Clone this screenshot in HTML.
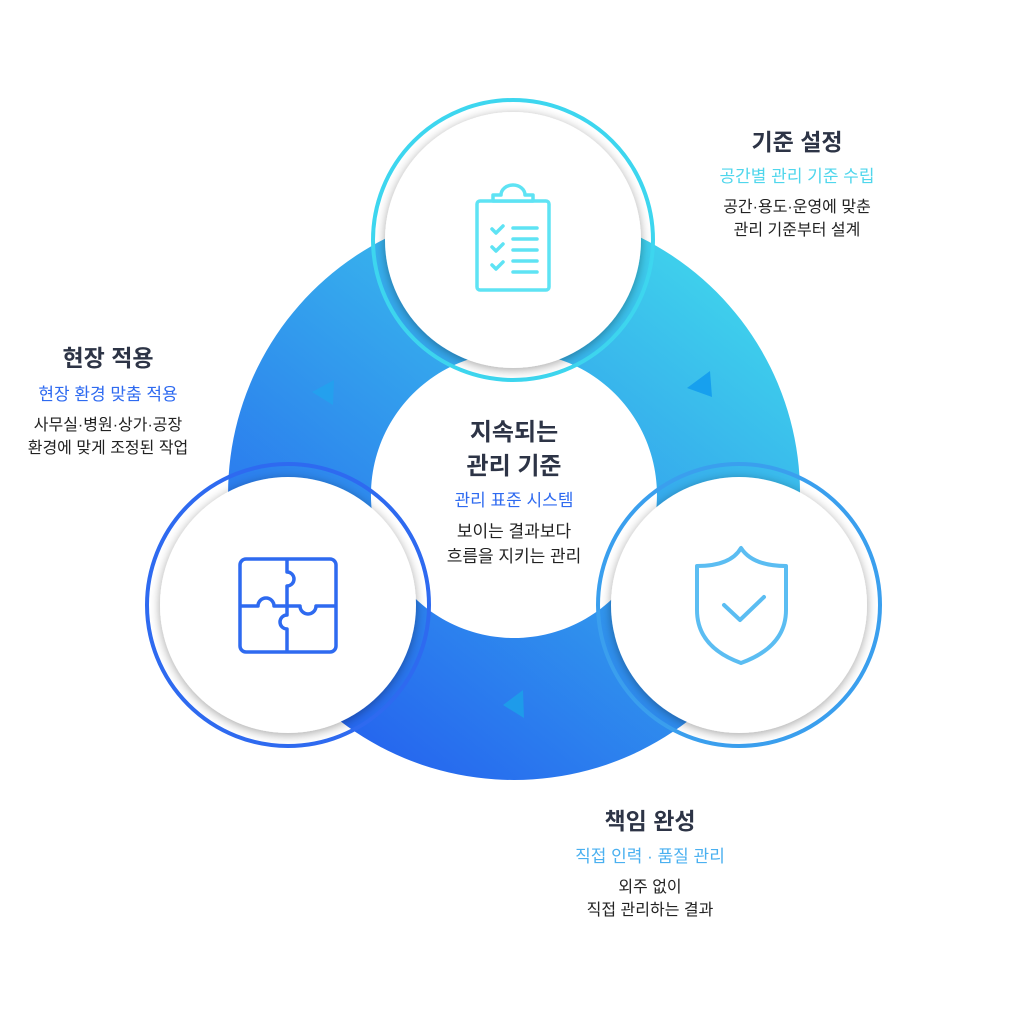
<!DOCTYPE html>
<html><head><meta charset="utf-8"><style>
html,body{margin:0;padding:0;background:#fff;width:1024px;height:1024px;overflow:hidden}
svg{display:block}
text{font-family:"Liberation Sans","Noto Sans CJK KR",sans-serif}
</style></head><body>
<svg width="1024" height="1024" viewBox="0 0 1024 1024">
<defs>
<linearGradient id="g" x1="0.85" y1="0.1" x2="0.2" y2="0.95">
<stop offset="0" stop-color="#3fd2ec"/><stop offset="1" stop-color="#2563ee"/>
</linearGradient>
<filter id="sh" x="-20%" y="-20%" width="140%" height="140%">
<feDropShadow dx="0" dy="2" stdDeviation="5" flood-color="#000" flood-opacity="0.35"/>
</filter>
</defs>
<path fill="url(#g)" fill-rule="evenodd" d="M514,208a286,286 0 1,0 0.1,0z M514,352a143,143 0 1,1 -0.1,0z"/>
<polygon points="687,388 710,371 712,397" fill="#17a0ee"/>
<polygon points="312,392 334,380 333,405" fill="#24a0ee"/>
<polygon points="503,705 523,690 524,718" fill="#1e9bea"/>
<circle cx="513" cy="240" r="140" fill="none" stroke="#3dd6ef" stroke-width="4"/>
<circle cx="513" cy="240" r="128" fill="#fff" filter="url(#sh)"/>
<circle cx="288" cy="605" r="141" fill="none" stroke="#2e6af0" stroke-width="4"/>
<circle cx="288" cy="605" r="128" fill="#fff" filter="url(#sh)"/>
<circle cx="739" cy="605" r="141" fill="none" stroke="#3a9fee" stroke-width="4"/>
<circle cx="739" cy="605" r="128" fill="#fff" filter="url(#sh)"/>
<g fill="none" stroke="#5ee3f4" stroke-width="3.5" stroke-linecap="round" stroke-linejoin="round">
<rect x="477" y="201" width="72" height="89" rx="3"/>
<path d="M493,201v-6h8a6,5 0 0,1 24,0h8v6z" fill="#fff"/>
<path d="M492,229l4,4l7,-7 M492,247l4,4l7,-7 M492,265l4,4l7,-7"/>
<path d="M513,228h24 M513,239h24 M513,250h24 M513,261h24 M513,272h24"/>
</g>
<g fill="none" stroke="#2e6af0" stroke-width="3.5" stroke-linejoin="round">
<rect x="240" y="559" width="96" height="93" rx="6"/>
<path d="M287,559v13a7,7 0 0,1 0,14v20h-13a8,8 0 0,0 -16,0h-18"/>
<path d="M287,606v9a7,7 0 0,0 0,14v23"/>
<path d="M287,606h13a8,8 0 0,0 16,0h20"/>
</g>
<g fill="none" stroke="#5bbdf2" stroke-width="4" stroke-linecap="round" stroke-linejoin="round">
<path d="M741,548c-8,14 -25,18 -44,18v44c0,30 22,45 44,53c22,-8 45,-23 45,-53v-44c-19,0 -36,-4 -45,-18z"/>
<path d="M724,605l16,15l24,-23"/>
</g>
<g text-anchor="middle">
<text x="797" y="150" font-size="23" font-weight="bold" fill="#2d3446">기준 설정</text>
<text x="797" y="182" font-size="17" fill="#4fd6ec">공간별 관리 기준 수립</text>
<text x="797" y="212" font-size="16" fill="#222">공간·용도·운영에 맞춘</text>
<text x="797" y="235" font-size="16" fill="#222">관리 기준부터 설계</text>

<text x="108" y="366" font-size="23" font-weight="bold" fill="#2d3446">현장 적용</text>
<text x="108" y="400" font-size="17" fill="#2e6af0">현장 환경 맞춤 적용</text>
<text x="108" y="430" font-size="16" fill="#222">사무실·병원·상가·공장</text>
<text x="108" y="453" font-size="16" fill="#222">환경에 맞게 조정된 작업</text>

<text x="514" y="440" font-size="24" font-weight="bold" fill="#2d3446">지속되는</text>
<text x="514" y="474" font-size="24" font-weight="bold" fill="#2d3446">관리 기준</text>
<text x="514" y="506" font-size="17" fill="#2e6af0">관리 표준 시스템</text>
<text x="514" y="537" font-size="17" fill="#222">보이는 결과보다</text>
<text x="514" y="562" font-size="17" fill="#222">흐름을 지키는 관리</text>

<text x="650" y="829" font-size="23" font-weight="bold" fill="#2d3446">책임 완성</text>
<text x="650" y="862" font-size="17" fill="#4ab0f0">직접 인력 · 품질 관리</text>
<text x="650" y="892" font-size="16" fill="#222">외주 없이</text>
<text x="650" y="915" font-size="16" fill="#222">직접 관리하는 결과</text>
</g>
</svg>
</body></html>
